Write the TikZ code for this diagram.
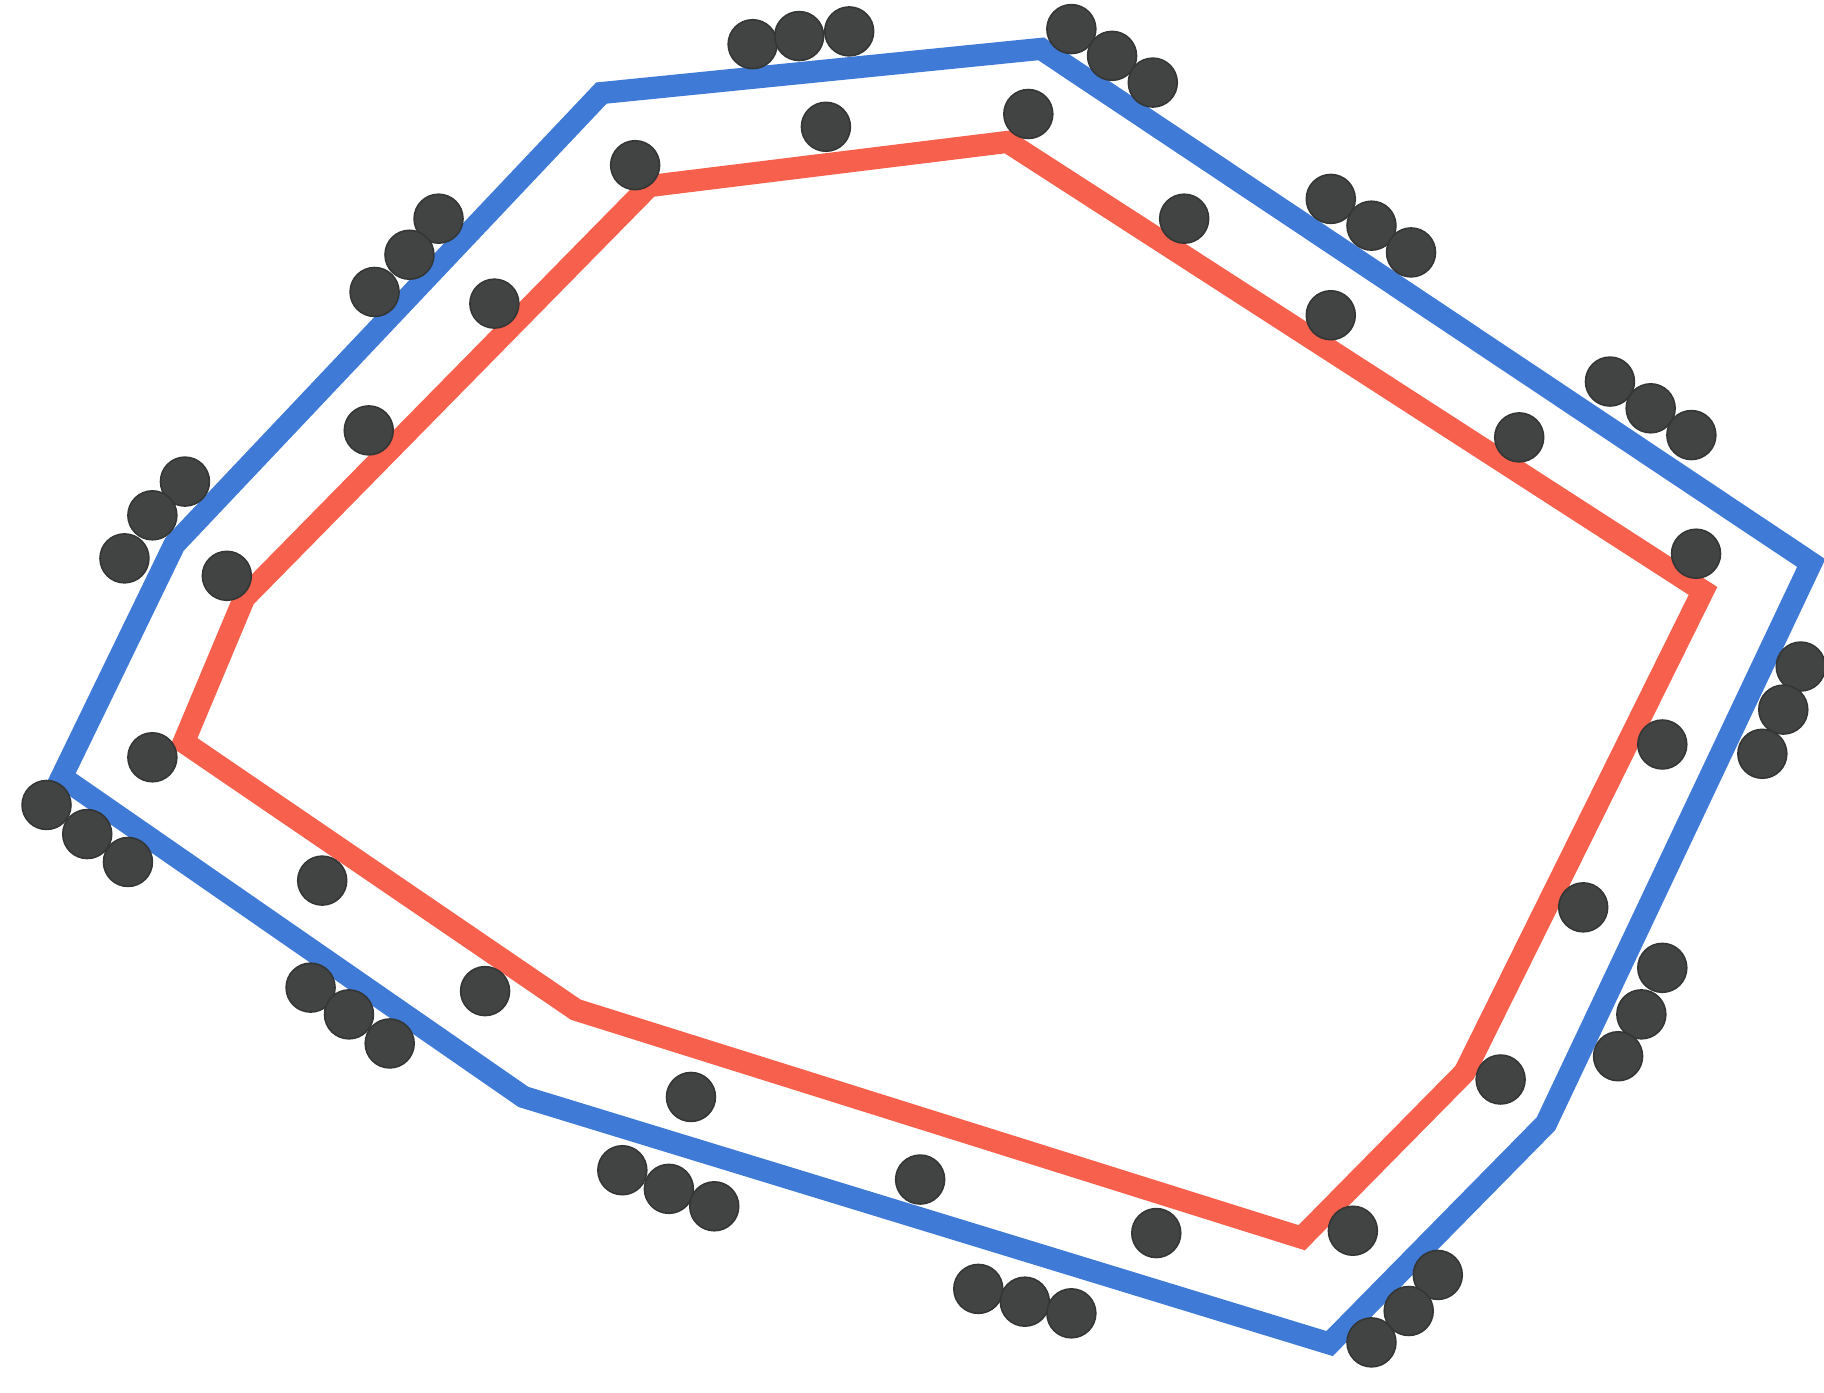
\documentclass[tikz,border=0pt]{standalone}
\definecolor{bl}{RGB}{62,122,214}
\definecolor{rd}{RGB}{246,96,76}
\definecolor{dt}{RGB}{66,68,68}
\tikzset{
  blueline/.style={draw=bl,line width=0.19cm,line join=miter},
  redline/.style={draw=rd,line width=0.19cm,line join=miter},
  dotmark/.style={fill=dt,draw=dt!80!black,line width=0.4pt}
}
\begin{document}
\begin{tikzpicture}[x=0.01cm,y=-0.01cm]
\useasboundingbox (0,0) rectangle (1568,1197);
% blue polygon vertices
\coordinate (B1) at (517,80);
\coordinate (B2) at (895,42);
\coordinate (B3) at (1557,484);
\coordinate (B4) at (1329,966);
\coordinate (B5) at (1143,1155);
\coordinate (B6) at (450,943);
\coordinate (B7) at (53,668);
\coordinate (B8) at (150,468);
% red polygon vertices
\coordinate (R1) at (558,160);
\coordinate (R2) at (866,122);
\coordinate (R3) at (1464,508);
\coordinate (R4) at (1259,922);
\coordinate (R5) at (1119,1064);
\coordinate (R6) at (495,868);
\coordinate (R7) at (158,638);
\coordinate (R8) at (210,514);
\draw[blueline] (B1) -- (B2) -- (B3) -- (B4) -- (B5) -- (B6) -- (B7) -- (B8) -- cycle;
\draw[redline] (R1) -- (R2) -- (R3) -- (R4) -- (R5) -- (R6) -- (R7) -- (R8) -- cycle;
% single dots on the red line
\foreach \p in {(710,109),(546,142),(425,261),(317,370),(195,495),(131,651),
  (277,757),(417,852),(594,943),(791,1014),(994,1060),(1163,1058),(1290,928),
  (1361,780),(1429,640),(1458,476),(1306,376),(1144,271),(1018,188),(884,98)}
  \fill[dotmark] \p circle[radius=0.21cm];
% triple clusters on the blue line
\foreach \p in {(647,38),(687,31),(730,27),
  (921,25),(956,48),(991,71),
  (1144,171),(1179,194),(1213,217),
  (1384,328),(1419,351),(1454,374),
  (1548,573),(1533,610),(1515,648),
  (1429,832),(1411,872),(1391,908),
  (1236,1096),(1211,1127),(1179,1154),
  (841,1108),(881,1119),(921,1129),
  (535,1006),(575,1022),(614,1037),
  (267,849),(300,872),(335,897),
  (40,692),(75,717),(110,741),
  (159,414),(131,443),(107,480),
  (377,188),(352,219),(322,251)}
  \fill[dotmark] \p circle[radius=0.21cm];
\end{tikzpicture}
\end{document}
